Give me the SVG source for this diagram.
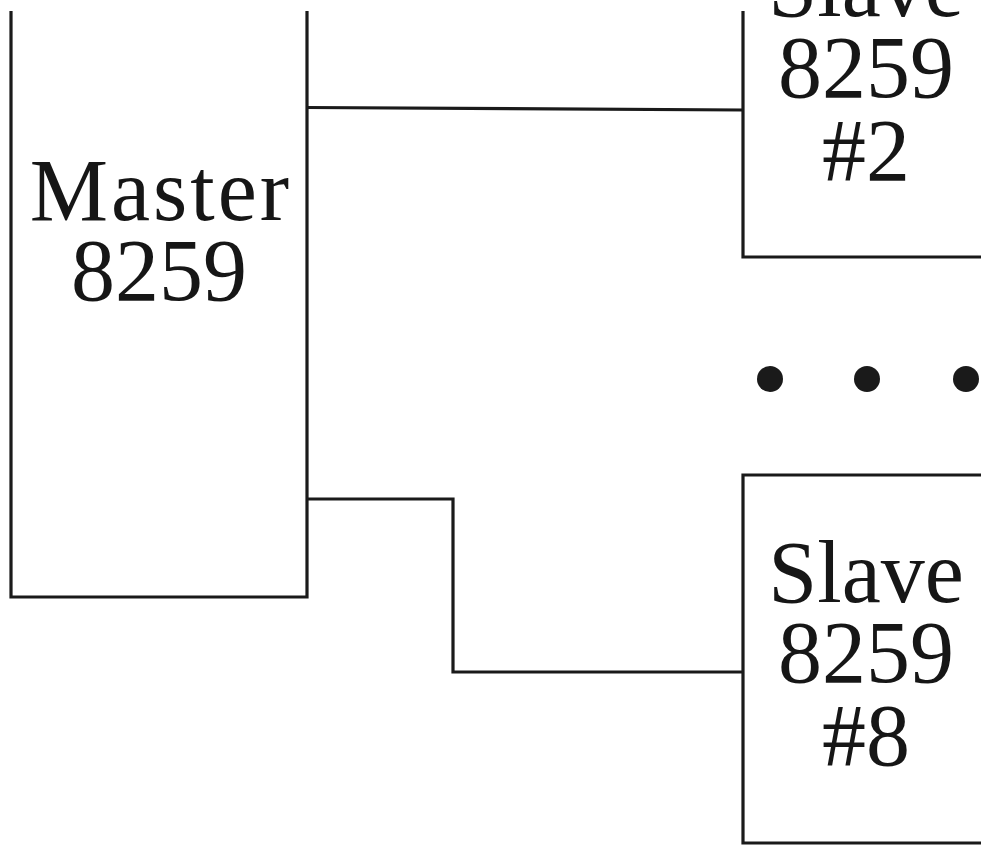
<svg xmlns="http://www.w3.org/2000/svg" width="981" height="846" viewBox="0 0 981 846">
<style>
.box{fill:none;stroke:#1a1a1a;stroke-width:3.2;stroke-linejoin:miter}
.wire{fill:none;stroke:#1a1a1a;stroke-width:3.2;stroke-linejoin:miter}
.lbl{font-family:"Liberation Serif","DejaVu Serif",serif;font-size:88px;fill:#161616;text-anchor:middle}
.dot{fill:#1a1a1a}
</style>
<rect width="981" height="846" fill="#ffffff"/>
<g id="master">
<path class="box" d="M11,11 V597 H307 V11"/>
<text class="lbl" x="161" y="220" letter-spacing="3">Master</text>
<text class="lbl" x="159" y="300">8259</text>
</g>
<g id="slave2">
<path class="box" d="M743,11 V257 H985"/>
<text class="lbl" x="866" y="16">Slave</text>
<text class="lbl" x="866" y="97">8259</text>
<text class="lbl" x="866" y="180">#2</text>
</g>
<g id="slave8">
<path class="box" d="M985,475 H743 V843 H985"/>
<text class="lbl" x="866" y="602">Slave</text>
<text class="lbl" x="866" y="682">8259</text>
<text class="lbl" x="866" y="765">#8</text>
</g>
<g id="ellipsis">
<circle class="dot" cx="770" cy="379" r="13"/>
<circle class="dot" cx="867" cy="379" r="13"/>
<circle class="dot" cx="966" cy="379" r="13"/>
</g>
<g id="connectors">
<path class="wire" d="M307,107.5 L743,110"/>
<path class="wire" d="M307,499 H453 V672 H743"/>
</g>
</svg>
